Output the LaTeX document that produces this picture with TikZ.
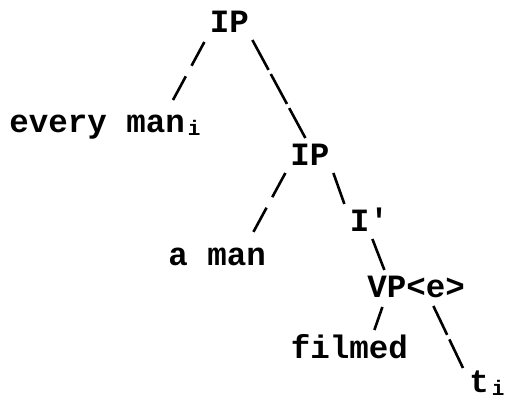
\documentclass[tikz,border=0pt]{standalone}
\usepackage{fontspec}
\setmainfont{Liberation Mono}
\newcommand{\idx}[1]{\hspace{3pt}\raisebox{-3.5pt}{\fontsize{21}{21}\selectfont #1}}
\tikzset{every picture/.style={line width=0.75pt}}
\tikzset{
	word/.style={anchor=base west, inner sep=0pt, font=\bfseries\fontsize{32.5}{36}\selectfont},
	branch/.style={line width=2.6pt}}

\begin{document}
\begin{tikzpicture}[x=1pt,y=-1pt]
	\useasboundingbox (0,0) rectangle (507,399);

	% Text Node
	\node[word] (ip1) at (209.5,32) {IP};
	% Text Node
	\node[word] (every) at (9,132) {every man\idx{i}};
	% Text Node
	\node[word] (ip2) at (290,165) {IP};
	% Text Node
	\node[word] (aman) at (168,265) {a man};
	% Text Node
	\node[word] (ibar) at (349.5,231) {I\textquotesingle};
	% Text Node
	\node[word] (vp) at (367,297) {VP<e>};
	% Text Node
	\node[word] (filmed) at (290.5,358) {filmed};
	% Text Node
	\node[word] (trace) at (469,392) {t\idx{i}};

	%Straight Lines
	\draw[branch, dash pattern=on 27pt off 12pt] ([shift={(-25,10)}]ip1.base) -- ([shift={(164,-32)}]every.base west);
	%Straight Lines
	\draw[branch, dash pattern=on 34pt off 4.7pt] ([shift={(23,8)}]ip1.base) -- ([shift={(-4.5,-27)}]ip2.base);
	%Straight Lines
	\draw[branch, dash pattern=on 27.5pt off 12pt] ([shift={(-24.5,8)}]ip2.base) -- ([shift={(36.25,-33)}]aman.base);
	%Straight Lines
	\draw[branch] ([shift={(23.5,8)}]ip2.base) -- ([shift={(-25,-27)}]ibar.base);
	%Straight Lines
	\draw[branch] ([shift={(3,8)}]ibar.base) -- ([shift={(-31.75,-27)}]vp.base);
	%Straight Lines
	\draw[branch] ([shift={(-33.75,10)}]vp.base) -- ([shift={(25,-28)}]filmed.base);
	%Straight Lines
	\draw[branch, dash pattern=on 32pt off 5pt] ([shift={(17.25,9)}]vp.base) -- ([shift={(-6,-24)}]trace.base west);

\end{tikzpicture}
\end{document}
